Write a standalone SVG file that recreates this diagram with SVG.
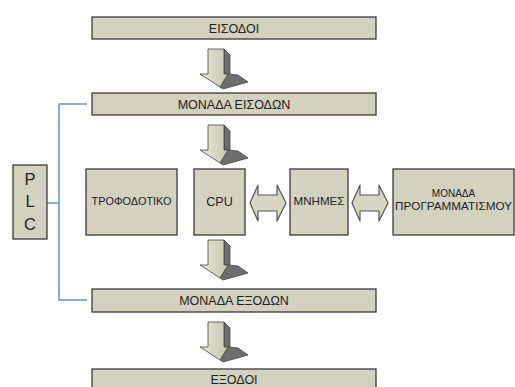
<svg xmlns="http://www.w3.org/2000/svg" width="515" height="387" viewBox="0 0 515 387">
<style>
.box{fill:#d3d2bf;stroke:#3a3a3a;stroke-width:1.3}
.t{font-family:"Liberation Sans",Arial,sans-serif;fill:#222;text-anchor:middle}
.link{fill:none;stroke:#6b8fc6;stroke-width:1.5}
.dbl{fill:#d6d6c2;stroke:#555;stroke-width:1.2;stroke-linejoin:round}
.af{fill:url(#ag);stroke:#444;stroke-width:0.8;stroke-linejoin:round}
.ad{fill:#6e6e6e;stroke:#444;stroke-width:0.8;stroke-linejoin:round}
</style>
<defs>
<linearGradient id="ag" x1="0" y1="0" x2="1" y2="0">
<stop offset="0" stop-color="#e6e6d4"/>
<stop offset="1" stop-color="#c8c8b2"/>
</linearGradient>
<g id="down">
<polygon class="ad" points="24,0 30,6 30,25 24,25"/>
<polygon class="ad" points="28,25 38,26 48,33 23,40 20,38"/>
<polygon class="af" points="8,0 24,0 24,25 28,25 20,38 0,25 8,25"/>
</g>
<polygon id="lr" points="0,18 8,0 8,10 27,10 27,0 36,18 27,36 27,26 8,26 8,36"/>
</defs>
<rect width="515" height="387" fill="#fff"/>
<g id="connectors">
<path class="link" d="M87,104 H59 V300 H87 M47,203 H59"/>
<use href="#down" x="200" y="49"/>
<use href="#down" x="200" y="125"/>
<use href="#down" x="200" y="240"/>
<use href="#down" x="200" y="322"/>
<use href="#lr" class="dbl" x="250" y="185"/>
<use href="#lr" class="dbl" x="352" y="185"/>
</g>
<g id="eisodoi"><rect class="box" x="92" y="17" width="284" height="22"/><text class="t" x="234" y="33" font-size="12.5">ΕΙΣΟΔΟΙ</text></g>
<g id="monada-eisodon"><rect class="box" x="92" y="93" width="284" height="22"/><text class="t" x="234" y="109" font-size="12.5">ΜΟΝΑΔΑ ΕΙΣΟΔΩΝ</text></g>
<g id="plc"><rect class="box" x="13" y="165" width="34" height="74"/>
<text class="t" x="30" y="185" font-size="16.5">P</text>
<text class="t" x="30" y="207" font-size="16.5">L</text>
<text class="t" x="30" y="230" font-size="16.5">C</text></g>
<g id="trofodotiko"><rect class="box" x="86" y="169" width="91" height="66"/><text class="t" x="131.5" y="205" font-size="10.5" textLength="80" lengthAdjust="spacingAndGlyphs">ΤΡΟΦΟΔΟΤΙΚΟ</text></g>
<g id="cpu"><rect class="box" x="194" y="169" width="51" height="66"/><text class="t" x="219.5" y="206" font-size="12.5">CPU</text></g>
<g id="mnimes"><rect class="box" x="290" y="169" width="58" height="66"/><text class="t" x="319" y="205" font-size="10.5" textLength="51" lengthAdjust="spacingAndGlyphs">ΜΝΗΜΕΣ</text></g>
<g id="monada-programmatismou"><rect class="box" x="393" y="169" width="121" height="66"/>
<text class="t" x="453.5" y="197" font-size="10">ΜΟΝΑΔΑ</text>
<text class="t" x="453.5" y="209.5" font-size="10" textLength="117" lengthAdjust="spacingAndGlyphs">ΠΡΟΓΡΑΜΜΑΤΙΣΜΟΥ</text></g>
<g id="monada-exodon"><rect class="box" x="92" y="289" width="284" height="23"/><text class="t" x="234" y="305" font-size="12.5">ΜΟΝΑΔΑ ΕΞΟΔΩΝ</text></g>
<g id="exodoi"><rect class="box" x="92" y="369" width="284" height="24"/><text class="t" x="234" y="384" font-size="12.5">ΕΞΟΔΟΙ</text></g>
</svg>
